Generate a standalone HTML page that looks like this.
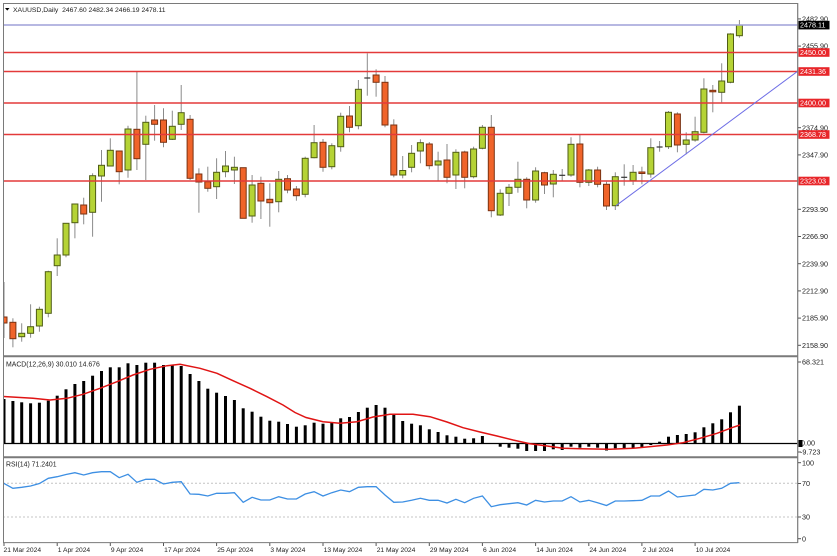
<!DOCTYPE html>
<html><head><meta charset="utf-8"><style>
html,body{margin:0;padding:0;background:#fff;width:837px;height:556px;overflow:hidden}
svg{display:block}
text{font-family:"Liberation Sans",Arial,sans-serif;fill:#222}
.w{stroke:#8a8a8a;stroke-width:1}
.g{fill:#b5d335;stroke:#4f5d16;stroke-width:1}
.r{fill:#f0642a;stroke:#7a3212;stroke-width:1}
.d{stroke:#333;stroke-width:1.2}
.m{fill:#000}
.ax{font-size:7.2px}
.xl{font-size:6.7px}
</style></head><body>
<svg width="837" height="556" viewBox="0 0 837 556" xmlns="http://www.w3.org/2000/svg">
<defs>
<clipPath id="cm"><rect x="3.5" y="3.5" width="794" height="352"/></clipPath>
<clipPath id="cd"><rect x="3.5" y="357.5" width="794" height="99"/></clipPath>
<clipPath id="cr"><rect x="3.5" y="458" width="794" height="84.5"/></clipPath>
</defs>

<!-- MAIN PANE -->
<g clip-path="url(#cm)">
<line class="w" x1="4" y1="282" x2="4" y2="338"/><rect class="r" x="1" y="317" width="6" height="6"/>
<line class="w" x1="12.9" y1="318.3" x2="12.9" y2="347.3"/><rect class="r" x="9.9" y="322.3" width="6" height="16.4"/>
<line class="w" x1="21.7" y1="323.3" x2="21.7" y2="341.7"/><rect class="g" x="18.7" y="333.3" width="6" height="3.4"/>
<line class="w" x1="30.6" y1="304.3" x2="30.6" y2="337.7"/><rect class="g" x="27.6" y="326.7" width="6" height="6.6"/>
<line class="w" x1="39.4" y1="306.7" x2="39.4" y2="331.7"/><rect class="g" x="36.4" y="309.3" width="6" height="16.7"/>
<line class="w" x1="48.3" y1="270.7" x2="48.3" y2="317.3"/><rect class="g" x="45.3" y="271.7" width="6" height="41.6"/>
<line class="w" x1="57.2" y1="238.3" x2="57.2" y2="276"/><rect class="g" x="54.2" y="255" width="6" height="10.7"/>
<line class="w" x1="66" y1="223.3" x2="66" y2="257.3"/><rect class="g" x="63" y="223.3" width="6" height="31.7"/>
<line class="w" x1="74.9" y1="204" x2="74.9" y2="238.3"/><rect class="g" x="71.9" y="204" width="6" height="18.7"/>
<line class="w" x1="83.7" y1="197.7" x2="83.7" y2="224.3"/><rect class="r" x="80.7" y="205" width="6" height="9"/>
<line class="w" x1="92.6" y1="173.3" x2="92.6" y2="236.7"/><rect class="g" x="89.6" y="175.7" width="6" height="36.6"/>
<line class="w" x1="101.5" y1="150" x2="101.5" y2="201.7"/><rect class="g" x="98.5" y="165.3" width="6" height="10.7"/>
<line class="w" x1="110.3" y1="138.3" x2="110.3" y2="166"/><rect class="g" x="107.3" y="150.3" width="6" height="15.7"/>
<line class="w" x1="119.2" y1="151" x2="119.2" y2="184.3"/><rect class="r" x="116.2" y="151" width="6" height="20.7"/>
<line class="w" x1="128" y1="125.7" x2="128" y2="177.7"/><rect class="g" x="125" y="129" width="6" height="41"/>
<line class="w" x1="136.9" y1="71.7" x2="136.9" y2="170"/><rect class="r" x="133.9" y="129.3" width="6" height="29.4"/>
<line class="w" x1="145.8" y1="115.7" x2="145.8" y2="180"/><rect class="g" x="142.8" y="122.3" width="6" height="22"/>
<line class="w" x1="154.6" y1="105" x2="154.6" y2="140.7"/><rect class="r" x="151.6" y="120" width="6" height="4.3"/>
<line class="w" x1="163.5" y1="108.3" x2="163.5" y2="147.3"/><rect class="r" x="160.5" y="120" width="6" height="22.3"/>
<line class="w" x1="172.3" y1="110.7" x2="172.3" y2="140"/><rect class="g" x="169.3" y="126.3" width="6" height="13"/>
<line class="w" x1="181.2" y1="85" x2="181.2" y2="130"/><rect class="g" x="178.2" y="112.7" width="6" height="11.6"/>
<line class="w" x1="190.1" y1="115" x2="190.1" y2="180"/><rect class="r" x="187.1" y="119.3" width="6" height="59"/>
<line class="w" x1="198.9" y1="168.3" x2="198.9" y2="212.7"/><rect class="r" x="195.9" y="174" width="6" height="8"/>
<line class="w" x1="207.8" y1="166.7" x2="207.8" y2="191.7"/><rect class="r" x="204.8" y="181.7" width="6" height="6.6"/>
<line class="w" x1="216.6" y1="158.3" x2="216.6" y2="199"/><rect class="g" x="213.6" y="172.3" width="6" height="14.4"/>
<line class="w" x1="225.5" y1="151" x2="225.5" y2="177.3"/><rect class="g" x="222.5" y="166" width="6" height="5.7"/>
<line class="w" x1="234.4" y1="156.7" x2="234.4" y2="184"/><rect class="g" x="231.4" y="167.3" width="6" height="2.7"/>
<line class="w" x1="243.2" y1="167.7" x2="243.2" y2="218.3"/><rect class="r" x="240.2" y="167.7" width="6" height="50.6"/>
<line class="w" x1="252.1" y1="175" x2="252.1" y2="222.7"/><rect class="g" x="249.1" y="185" width="6" height="31"/>
<line class="w" x1="260.9" y1="176.7" x2="260.9" y2="219"/><rect class="r" x="257.9" y="183.3" width="6" height="17.7"/>
<line class="w" x1="269.8" y1="183.3" x2="269.8" y2="226.7"/><rect class="r" x="266.8" y="199.3" width="6" height="3.4"/>
<line class="w" x1="278.7" y1="171" x2="278.7" y2="212.3"/><rect class="g" x="275.7" y="179.3" width="6" height="22.4"/>
<line class="w" x1="287.5" y1="175" x2="287.5" y2="193.3"/><rect class="r" x="284.5" y="178.7" width="6" height="11.3"/>
<line class="w" x1="296.4" y1="186" x2="296.4" y2="200.7"/><rect class="r" x="293.4" y="189" width="6" height="6.7"/>
<line class="w" x1="305.2" y1="156.7" x2="305.2" y2="197.3"/><rect class="g" x="302.2" y="158.3" width="6" height="36"/>
<line class="w" x1="314.1" y1="125" x2="314.1" y2="158.3"/><rect class="g" x="311.1" y="142.7" width="6" height="15"/>
<line class="w" x1="323" y1="139" x2="323" y2="171.7"/><rect class="r" x="320" y="142.3" width="6" height="25"/>
<line class="w" x1="331.8" y1="143.3" x2="331.8" y2="169.3"/><rect class="g" x="328.8" y="145.7" width="6" height="21"/>
<line class="w" x1="340.7" y1="112.7" x2="340.7" y2="151.7"/><rect class="g" x="337.7" y="116.3" width="6" height="30.4"/>
<line class="w" x1="349.5" y1="106" x2="349.5" y2="132.3"/><rect class="r" x="346.5" y="116" width="6" height="11.3"/>
<line class="w" x1="358.4" y1="80" x2="358.4" y2="129.3"/><rect class="g" x="355.4" y="89.3" width="6" height="36.4"/>
<line class="w" x1="367.3" y1="53.3" x2="367.3" y2="95.7"/><line class="d" x1="364.3" y1="78" x2="370.3" y2="78"/>
<line class="w" x1="376.1" y1="69.3" x2="376.1" y2="96.7"/><rect class="r" x="373.1" y="75" width="6" height="7.3"/>
<line class="w" x1="385" y1="76" x2="385" y2="127.3"/><rect class="r" x="382" y="82.3" width="6" height="42.7"/>
<line class="w" x1="393.8" y1="119.3" x2="393.8" y2="177.3"/><rect class="r" x="390.8" y="125" width="6" height="50"/>
<line class="w" x1="402.7" y1="156" x2="402.7" y2="178.3"/><rect class="g" x="399.7" y="170.5" width="6" height="4.5"/>
<line class="w" x1="411.6" y1="145" x2="411.6" y2="172.3"/><rect class="g" x="408.6" y="153.3" width="6" height="14"/>
<line class="w" x1="420.4" y1="139.3" x2="420.4" y2="163.3"/><rect class="g" x="417.4" y="142.7" width="6" height="8.3"/>
<line class="w" x1="429.3" y1="142" x2="429.3" y2="169.3"/><rect class="r" x="426.3" y="144" width="6" height="21.7"/>
<line class="w" x1="438.1" y1="151.7" x2="438.1" y2="180.7"/><rect class="g" x="435.1" y="161" width="6" height="4"/>
<line class="w" x1="447" y1="144" x2="447" y2="183.3"/><rect class="r" x="444" y="160" width="6" height="17.3"/>
<line class="w" x1="455.9" y1="149.3" x2="455.9" y2="189"/><rect class="g" x="452.9" y="152.3" width="6" height="22.7"/>
<line class="w" x1="464.7" y1="150.7" x2="464.7" y2="188.3"/><rect class="r" x="461.7" y="152" width="6" height="25.3"/>
<line class="w" x1="473.6" y1="146.7" x2="473.6" y2="178.3"/><rect class="g" x="470.6" y="149" width="6" height="27.7"/>
<line class="w" x1="482.4" y1="125" x2="482.4" y2="149.3"/><rect class="g" x="479.4" y="127.3" width="6" height="21"/>
<line class="w" x1="491.3" y1="115" x2="491.3" y2="217.3"/><rect class="r" x="488.3" y="127.3" width="6" height="83.4"/>
<line class="w" x1="500.2" y1="189.3" x2="500.2" y2="216"/><rect class="g" x="497.2" y="193.3" width="6" height="21.7"/>
<line class="w" x1="509" y1="184" x2="509" y2="206"/><rect class="g" x="506" y="187.3" width="6" height="6"/>
<line class="w" x1="517.9" y1="161.7" x2="517.9" y2="192.7"/><rect class="g" x="514.9" y="179.3" width="6" height="8"/>
<line class="w" x1="526.7" y1="177.3" x2="526.7" y2="208.3"/><rect class="r" x="523.7" y="179.3" width="6" height="20.7"/>
<line class="w" x1="535.6" y1="167.3" x2="535.6" y2="202.7"/><rect class="g" x="532.6" y="171" width="6" height="29"/>
<line class="w" x1="544.5" y1="171.7" x2="544.5" y2="194"/><rect class="r" x="541.5" y="172.7" width="6" height="12.3"/>
<line class="w" x1="553.3" y1="170" x2="553.3" y2="197.3"/><rect class="g" x="550.3" y="174.3" width="6" height="9.7"/>
<line class="w" x1="562.2" y1="169" x2="562.2" y2="180.7"/><line class="d" x1="559.2" y1="175.3" x2="565.2" y2="175.3"/>
<line class="w" x1="571" y1="137.3" x2="571" y2="176.7"/><rect class="g" x="568" y="144.3" width="6" height="30.7"/>
<line class="w" x1="579.9" y1="134.3" x2="579.9" y2="187.3"/><rect class="r" x="576.9" y="144" width="6" height="38.3"/>
<line class="w" x1="588.8" y1="169" x2="588.8" y2="186"/><rect class="g" x="585.8" y="170" width="6" height="12.3"/>
<line class="w" x1="597.6" y1="166.7" x2="597.6" y2="187.3"/><rect class="r" x="594.6" y="170" width="6" height="14.3"/>
<line class="w" x1="606.5" y1="181.7" x2="606.5" y2="210"/><rect class="r" x="603.5" y="184.3" width="6" height="21.7"/>
<line class="w" x1="615.3" y1="172.3" x2="615.3" y2="210"/><rect class="g" x="612.3" y="176.7" width="6" height="29"/>
<line class="w" x1="624.2" y1="164.3" x2="624.2" y2="185.7"/><line class="d" x1="621.2" y1="177.3" x2="627.2" y2="177.3"/>
<line class="w" x1="633.1" y1="165" x2="633.1" y2="185"/><rect class="g" x="630.1" y="172.3" width="6" height="8.4"/>
<line class="w" x1="641.9" y1="166.7" x2="641.9" y2="184.3"/><rect class="r" x="638.9" y="172" width="6" height="1.5"/>
<line class="w" x1="650.8" y1="138.3" x2="650.8" y2="177.7"/><rect class="g" x="647.8" y="147.7" width="6" height="26.3"/>
<line class="w" x1="659.6" y1="141" x2="659.6" y2="151.7"/><line class="d" x1="656.6" y1="147" x2="662.6" y2="147"/>
<line class="w" x1="668.5" y1="111" x2="668.5" y2="149"/><rect class="g" x="665.5" y="112.3" width="6" height="34.4"/>
<line class="w" x1="677.4" y1="112.3" x2="677.4" y2="152.3"/><rect class="r" x="674.4" y="114" width="6" height="31"/>
<line class="w" x1="686.2" y1="132.3" x2="686.2" y2="154.3"/><rect class="g" x="683.2" y="140" width="6" height="4.3"/>
<line class="w" x1="695.1" y1="116.7" x2="695.1" y2="141.7"/><rect class="g" x="692.1" y="131.7" width="6" height="8.3"/>
<line class="w" x1="703.9" y1="78.3" x2="703.9" y2="133.3"/><rect class="g" x="700.9" y="89" width="6" height="43.3"/>
<line class="w" x1="712.8" y1="85" x2="712.8" y2="112.3"/><rect class="r" x="709.8" y="90.3" width="6" height="1.5"/>
<line class="w" x1="721.7" y1="63.3" x2="721.7" y2="102.3"/><rect class="g" x="718.7" y="81" width="6" height="11.3"/>
<line class="w" x1="730.5" y1="33.3" x2="730.5" y2="83.3"/><rect class="g" x="727.5" y="34" width="6" height="48.3"/>
<line class="w" x1="739.4" y1="20" x2="739.4" y2="37.7"/><rect class="g" x="736.4" y="25" width="6" height="10.7"/>

<!-- level lines -->
<line x1="3" y1="25" x2="798" y2="25" stroke="#9fa0d8" stroke-width="1.5"/>
<line x1="3" y1="52.5" x2="798" y2="52.5" stroke="#e33a3a" stroke-width="1.6"/>
<line x1="3" y1="71.5" x2="798" y2="71.5" stroke="#e33a3a" stroke-width="1.6"/>
<line x1="3" y1="103" x2="798" y2="103" stroke="#e33a3a" stroke-width="1.6"/>
<line x1="3" y1="134.5" x2="798" y2="134.5" stroke="#e33a3a" stroke-width="1.6"/>
<line x1="3" y1="181" x2="798" y2="181" stroke="#e33a3a" stroke-width="1.6"/>
<!-- trend line -->
<line x1="616" y1="205.7" x2="798" y2="71" stroke="#6e6ee6" stroke-width="1"/>
</g>

<!-- header -->
<polygon points="5,8 9.5,8 7.25,10.6" fill="#000"/>
<text x="13" y="11.8" style="font-size:6.8px;white-space:pre" xml:space="preserve">XAUUSD,Daily  2467.60 2482.34 2466.19 2478.11</text>

<!-- MACD pane -->
<g clip-path="url(#cd)">
<line x1="3" y1="443.5" x2="798" y2="443.5" stroke="#000" stroke-width="1.3"/>
<g class="m">
<rect x="2.5" y="399" width="3" height="44.5"/><rect x="11.4" y="401" width="3" height="42.5"/><rect x="20.2" y="402.3" width="3" height="41.2"/><rect x="29.1" y="403.3" width="3" height="40.2"/><rect x="37.9" y="402.7" width="3" height="40.8"/><rect x="46.8" y="400.7" width="3" height="42.8"/><rect x="55.7" y="395.7" width="3" height="47.8"/><rect x="64.5" y="389.3" width="3" height="54.2"/><rect x="73.4" y="384" width="3" height="59.5"/><rect x="82.2" y="381" width="3" height="62.5"/><rect x="91.1" y="375.7" width="3" height="67.8"/><rect x="100" y="371" width="3" height="72.5"/><rect x="108.8" y="367.3" width="3" height="76.2"/><rect x="117.7" y="367.3" width="3" height="76.2"/><rect x="126.5" y="363.3" width="3" height="80.2"/><rect x="135.4" y="365" width="3" height="78.5"/><rect x="144.3" y="362.7" width="3" height="80.8"/><rect x="153.1" y="362.7" width="3" height="80.8"/><rect x="162" y="365" width="3" height="78.5"/><rect x="170.8" y="365.3" width="3" height="78.2"/><rect x="179.7" y="366" width="3" height="77.5"/><rect x="188.6" y="374" width="3" height="69.5"/><rect x="197.4" y="381" width="3" height="62.5"/><rect x="206.3" y="388.7" width="3" height="54.8"/><rect x="215.1" y="392.7" width="3" height="50.8"/><rect x="224" y="396" width="3" height="47.5"/><rect x="232.9" y="400" width="3" height="43.5"/><rect x="241.7" y="408.3" width="3" height="35.2"/><rect x="250.6" y="411.7" width="3" height="31.8"/><rect x="259.4" y="416.7" width="3" height="26.8"/><rect x="268.3" y="420.7" width="3" height="22.8"/><rect x="277.2" y="421.7" width="3" height="21.8"/><rect x="286" y="424" width="3" height="19.5"/><rect x="294.9" y="426.7" width="3" height="16.8"/><rect x="303.7" y="425.3" width="3" height="18.2"/><rect x="312.6" y="422.7" width="3" height="20.8"/><rect x="321.5" y="423.7" width="3" height="19.8"/><rect x="330.3" y="422.7" width="3" height="20.8"/><rect x="339.2" y="418.3" width="3" height="25.2"/><rect x="348" y="417" width="3" height="26.5"/><rect x="356.9" y="412" width="3" height="31.5"/><rect x="365.8" y="407.7" width="3" height="35.8"/><rect x="374.6" y="405" width="3" height="38.5"/><rect x="383.5" y="407.7" width="3" height="35.8"/><rect x="392.3" y="415" width="3" height="28.5"/><rect x="401.2" y="421" width="3" height="22.5"/><rect x="410.1" y="423.7" width="3" height="19.8"/><rect x="418.9" y="425.3" width="3" height="18.2"/><rect x="427.8" y="429.3" width="3" height="14.2"/><rect x="436.6" y="432" width="3" height="11.5"/><rect x="445.5" y="435.3" width="3" height="8.2"/><rect x="454.4" y="436.7" width="3" height="6.8"/><rect x="463.2" y="438.7" width="3" height="4.8"/><rect x="472.1" y="438.3" width="3" height="5.2"/><rect x="480.9" y="436" width="3" height="7.5"/>
<rect x="498.7" y="443.5" width="3" height="3.2"/><rect x="507.5" y="443.5" width="3" height="4.2"/><rect x="516.4" y="443.5" width="3" height="5.2"/><rect x="525.2" y="443.5" width="3" height="7.5"/><rect x="534.1" y="443.5" width="3" height="7.5"/><rect x="543" y="443.5" width="3" height="7.5"/><rect x="551.8" y="443.5" width="3" height="5.8"/><rect x="560.7" y="443.5" width="3" height="6.5"/><rect x="569.5" y="443.5" width="3" height="3.2"/><rect x="578.4" y="443.5" width="3" height="4.2"/><rect x="587.3" y="443.5" width="3" height="3.2"/><rect x="596.1" y="443.5" width="3" height="4.2"/><rect x="605" y="443.5" width="3" height="7"/><rect x="613.8" y="443.5" width="3" height="4.8"/><rect x="622.7" y="443.5" width="3" height="4.8"/><rect x="631.6" y="443.5" width="3" height="4.8"/><rect x="640.4" y="443.5" width="3" height="3.8"/><rect x="649.3" y="443.5" width="3" height="1.5"/>
<rect x="658.1" y="441.7" width="3" height="1.8"/><rect x="667" y="436.7" width="3" height="6.8"/><rect x="675.9" y="435" width="3" height="8.5"/><rect x="684.7" y="434" width="3" height="9.5"/><rect x="693.6" y="432.3" width="3" height="11.2"/><rect x="702.4" y="427.3" width="3" height="16.2"/><rect x="711.3" y="423.3" width="3" height="20.2"/><rect x="720.2" y="419.3" width="3" height="24.2"/><rect x="729" y="412.3" width="3" height="31.2"/><rect x="737.9" y="405.7" width="3" height="37.8"/>
</g>
<polyline fill="none" stroke="#e01414" stroke-width="1.5" points="3,396.5 33,398.3 50,400 67,398.3 83,394.3 100,388.3 117,381.7 133,375 150,369.3 167,365.7 180,364.3 200,368.3 217,373.3 233,380.7 250,388.3 267,396.7 283,405 295,412.5 306,417.5 323,421.7 340,423.3 357,421.7 373,417 390,414.3 413,414.3 430,416.7 447,422 463,427.7 480,432 497,436 513,440 530,443.7 547,446 563,448.3 580,448.7 610,449.3 633,448.3 667,445 683,442.7 700,438.3 717,433.3 733,427.3 740,425"/>
</g>
<text x="6" y="366.5" style="font-size:6.9px">MACD(12,26,9) 30.010 14.676</text>

<!-- RSI pane -->
<line x1="3" y1="483.3" x2="797" y2="483.3" stroke="#c4c4c4" stroke-width="1" stroke-dasharray="2,2"/>
<line x1="3" y1="517" x2="797" y2="517" stroke="#c4c4c4" stroke-width="1" stroke-dasharray="2,2"/>
<g clip-path="url(#cr)">
<polyline fill="none" stroke="#3d8fe3" stroke-width="1.3" points="3,482.7 4,483.5 12.9,488.3 21.7,487.3 30.6,486 39.4,483.5 48.3,478.3 57.2,476.7 66,474.5 74.9,472.7 83.7,475 92.6,472.7 101.5,471.7 110.3,471.7 119.2,477.7 128,474.3 136.9,482.3 145.8,479.3 154.6,479.3 163.5,484 172.3,482.3 181.2,481.7 190.1,494 198.9,494.3 207.8,496 216.6,493.3 225.5,493.3 234.4,492.7 243.2,502.3 252.1,497.3 260.9,500 269.8,500 278.7,496.7 287.5,499 296.4,499 305.2,494 314.1,491.7 323,496 331.8,492.7 340.7,490 349.5,491.7 358.4,487.3 367.3,486.7 376.1,486.7 385,495 393.8,502.3 402.7,502 411.6,500.3 420.4,498.3 429.3,500.3 438.1,500.3 447,503 455.9,499.3 464.7,502.7 473.6,498.3 482.4,496 491.3,506.7 500.2,504.7 509,503.7 517.9,502.7 526.7,505 535.6,500.3 544.5,502 553.3,501 562.2,501 571,496.7 579.9,502 588.8,500.3 597.6,502.7 606.5,505.5 615.3,501 624.2,501 633.1,500.7 641.9,500.3 650.8,496 659.6,496 668.5,491 677.4,497 686.2,496 695.1,495 703.9,489.3 712.8,490 721.7,488.3 730.5,483.3 739.4,482.7"/>
</g>
<text x="6" y="466.5" style="font-size:6.9px">RSI(14) 71.2401</text>

<!-- frames -->
<g fill="none" stroke="#7a7a7a">
<line x1="3" y1="3.5" x2="798" y2="3.5" stroke-width="1"/>
<line x1="3" y1="356.3" x2="798" y2="356.3" stroke-width="2"/>
<line x1="3" y1="457.2" x2="798" y2="457.2" stroke-width="2"/>
<line x1="3" y1="542.6" x2="798" y2="542.6" stroke-width="1"/>
<line x1="3.5" y1="3" x2="3.5" y2="543" stroke-width="1"/>
<line x1="797.7" y1="3" x2="797.7" y2="543" stroke-width="1.2"/>
</g>

<!-- price axis ticks -->
<g stroke="#555" stroke-width="1">
<line x1="798" y1="18.9" x2="801" y2="18.9"/><line x1="798" y1="46.1" x2="801" y2="46.1"/><line x1="798" y1="127.7" x2="801" y2="127.7"/><line x1="798" y1="154.9" x2="801" y2="154.9"/><line x1="798" y1="209.3" x2="801" y2="209.3"/><line x1="798" y1="236.5" x2="801" y2="236.5"/><line x1="798" y1="263.7" x2="801" y2="263.7"/><line x1="798" y1="290.9" x2="801" y2="290.9"/><line x1="798" y1="318.1" x2="801" y2="318.1"/><line x1="798" y1="345.3" x2="801" y2="345.3"/>
<line x1="798" y1="362" x2="801" y2="362"/><line x1="798" y1="452" x2="801" y2="452"/>
<line x1="798" y1="462.7" x2="801" y2="462.7"/><line x1="798" y1="483.5" x2="801" y2="483.5"/><line x1="798" y1="517" x2="801" y2="517"/><line x1="798" y1="538.7" x2="801" y2="538.7"/>
</g>
<g class="ax">
<text x="802" y="21.5">2482.90</text>
<text x="802" y="48.7">2455.90</text>
<text x="802" y="130.3">2374.90</text>
<text x="802" y="157.5">2347.90</text>
<text x="802" y="211.9">2293.90</text>
<text x="802" y="239.1">2266.90</text>
<text x="802" y="266.3">2239.90</text>
<text x="802" y="293.5">2212.90</text>
<text x="802" y="320.7">2185.90</text>
<text x="802" y="347.9">2158.90</text>
<text x="802" y="364.6">68.321</text>
<text x="801" y="445.6">0.00</text>
<text x="800" y="454.6">-9.723</text>
<text x="802" y="465.3">100</text>
<text x="802" y="486.1">70</text>
<text x="802" y="519.6">30</text>
<text x="802" y="541.3">0</text>
</g>
<rect x="798.5" y="440" width="4" height="7" fill="#000"/>

<!-- level labels -->
<rect x="798.5" y="20.8" width="31" height="8.6" fill="#000"/>
<text x="800" y="27.6" class="ax" style="fill:#fff">2478.11</text>
<rect x="798.5" y="48.2" width="31" height="8.6" fill="#e8262a"/>
<text x="800" y="55" class="ax" style="fill:#fff">2450.00</text>
<rect x="798.5" y="67.2" width="31" height="8.6" fill="#e8262a"/>
<text x="800" y="74" class="ax" style="fill:#fff">2431.36</text>
<rect x="798.5" y="98.7" width="31" height="8.6" fill="#e8262a"/>
<text x="800" y="105.5" class="ax" style="fill:#fff">2400.00</text>
<rect x="798.5" y="130.2" width="31" height="8.6" fill="#e8262a"/>
<text x="800" y="137" class="ax" style="fill:#fff">2368.78</text>
<rect x="798.5" y="176.7" width="31" height="8.6" fill="#e8262a"/>
<text x="800" y="183.5" class="ax" style="fill:#fff">2323.03</text>

<!-- x axis -->
<g stroke="#555" stroke-width="1">
<line x1="4" y1="543" x2="4" y2="546"/><line x1="57.2" y1="543" x2="57.2" y2="546"/><line x1="110.3" y1="543" x2="110.3" y2="546"/><line x1="163.5" y1="543" x2="163.5" y2="546"/><line x1="216.6" y1="543" x2="216.6" y2="546"/><line x1="269.8" y1="543" x2="269.8" y2="546"/><line x1="323" y1="543" x2="323" y2="546"/><line x1="376.1" y1="543" x2="376.1" y2="546"/><line x1="429.3" y1="543" x2="429.3" y2="546"/><line x1="482.4" y1="543" x2="482.4" y2="546"/><line x1="535.6" y1="543" x2="535.6" y2="546"/><line x1="588.8" y1="543" x2="588.8" y2="546"/><line x1="641.9" y1="543" x2="641.9" y2="546"/><line x1="695.1" y1="543" x2="695.1" y2="546"/>
</g>
<g class="xl">
<text x="3.5" y="551.8">21 Mar 2024</text>
<text x="57.8" y="551.8">1 Apr 2024</text>
<text x="110.9" y="551.8">9 Apr 2024</text>
<text x="164.1" y="551.8">17 Apr 2024</text>
<text x="217.2" y="551.8">25 Apr 2024</text>
<text x="270.4" y="551.8">3 May 2024</text>
<text x="323.6" y="551.8">13 May 2024</text>
<text x="376.7" y="551.8">21 May 2024</text>
<text x="429.9" y="551.8">29 May 2024</text>
<text x="483" y="551.8">6 Jun 2024</text>
<text x="536.2" y="551.8">14 Jun 2024</text>
<text x="589.4" y="551.8">24 Jun 2024</text>
<text x="642.5" y="551.8">2 Jul 2024</text>
<text x="695.7" y="551.8">10 Jul 2024</text>
</g>
</svg>
</body></html>
